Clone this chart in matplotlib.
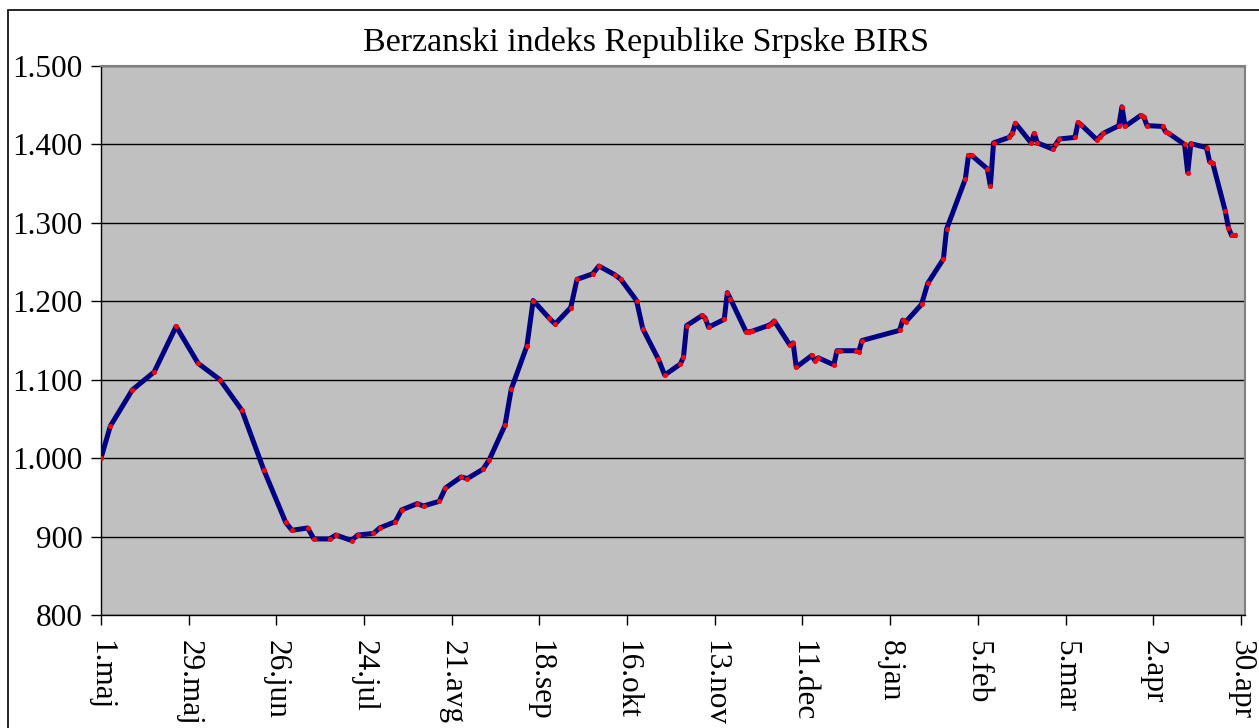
import matplotlib.pyplot as plt
from matplotlib.patches import Rectangle
from matplotlib.ticker import FuncFormatter

plt.rcParams["font.family"] = ["Liberation Serif", "DejaVu Serif"]

# days since 1.maj
days = [0, 3, 10, 17, 24, 31, 38, 45, 52, 59, 61, 66, 68, 73, 75, 80, 82, 87, 89,
        94, 96, 101, 103, 108, 110, 115, 117, 122, 124, 129, 131, 136, 138, 143,
        145, 150, 152, 157, 159, 164, 166, 171, 173, 178, 180, 185, 186, 187, 192,
        193, 194, 199, 200, 201, 206, 207, 208, 213, 214, 215, 220, 221, 222, 227,
        228, 229, 234, 235, 236, 241, 242, 243, 255, 256, 257, 262, 264, 269, 270,
        276, 277, 278, 283, 284, 285, 290, 291, 292, 297, 298, 299, 304, 305, 306,
        311, 312, 313, 318, 319, 320, 325, 326, 327, 332, 333, 334, 339, 340, 341,
        346, 347, 348, 353, 354, 355, 359, 360, 361, 362]

birs = [1000, 1041, 1087, 1110, 1168, 1121, 1100, 1061, 985, 918, 908, 911, 897,
        897, 902, 895, 902, 904, 911, 919, 934, 942, 939, 945, 962, 976, 974, 986,
        998, 1042, 1088, 1143, 1201, 1179, 1171, 1192, 1228, 1235, 1245, 1234,
        1228, 1201, 1165, 1126, 1106, 1120, 1129, 1169, 1182, 1178, 1167, 1177,
        1211, 1203, 1161, 1161, 1162, 1169, 1171, 1175, 1144, 1147, 1116, 1131,
        1124, 1128, 1119, 1137, 1137, 1137, 1136, 1150, 1163, 1176, 1174, 1196,
        1223, 1254, 1292, 1356, 1386, 1386, 1369, 1347, 1402, 1409, 1414, 1427,
        1402, 1414, 1402, 1394, 1401, 1407, 1409, 1428, 1425, 1406, 1410, 1414,
        1424, 1448, 1423, 1437, 1435, 1424, 1423, 1416, 1414, 1400, 1364, 1401,
        1396, 1378, 1376, 1315, 1294, 1284, 1284]

tick_days = [0, 28, 56, 84, 112, 140, 168, 196, 224, 252, 280, 308, 336, 364]
tick_labels = ["1.maj", "29.maj", "26.jun", "24.jul", "21.avg", "18.sep", "16.okt",
               "13.nov", "11.dec", "8.jan", "5.feb", "5.mar", "2.apr", "30.apr"]

fig = plt.figure(figsize=(12.59, 7.28), dpi=100)
ax = fig.add_axes([0.0802, 0.1552, 0.9087, 0.7541])

# frame round the whole chart
fig.patches.append(Rectangle((8 / 1259, -0.1), 1.2, 1.1 - 10 / 728,
                             transform=fig.transFigure, fill=False,
                             edgecolor="black", linewidth=1.2))

ax.set_facecolor("#c0c0c0")
ax.plot(days, birs, color="#000080", linewidth=3.6, zorder=3)
ax.plot(days, birs, linestyle="none", marker="o", markersize=2.6,
        color="red", zorder=4)

ax.set_xlim(0, 365.3)
ax.set_ylim(800, 1500)
ax.set_yticks(range(800, 1501, 100))
ax.yaxis.set_major_formatter(FuncFormatter(lambda v, p: f"{int(v):,}".replace(",", ".")))
ax.set_xticks(tick_days)
ax.set_xticklabels(tick_labels, rotation=-90)

ax.grid(axis="y", color="black", linewidth=1)
ax.set_axisbelow(True)

ax.tick_params(axis="both", direction="out", length=7, width=1, labelsize=22.5)
ax.tick_params(axis="y", pad=6)
ax.tick_params(axis="x", pad=11)

for s in ["left", "bottom"]:
    ax.spines[s].set_color("black")
    ax.spines[s].set_linewidth(1)
for s in ["top", "right"]:
    ax.spines[s].set_color("#808080")
    ax.spines[s].set_linewidth(1.5)

fig.text(646 / 1259, 1 - 42 / 728, "Berzanski indeks Republike Srpske BIRS",
         ha="center", va="center", fontsize=24.5)

plt.savefig("out.png", dpi=100)
plt.close()
